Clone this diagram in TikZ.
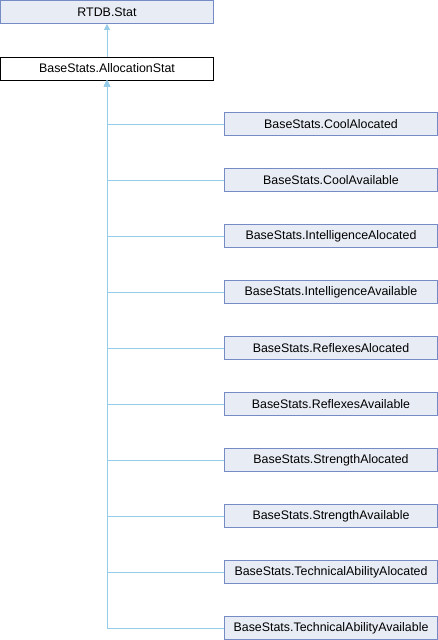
\documentclass[tikz,border=0pt]{standalone}
\usepackage{fontspec}
\setmainfont{Liberation Sans}
\usetikzlibrary{arrows.meta, positioning}
\definecolor{boxfill}{RGB}{232,236,245}
\definecolor{boxline}{RGB}{118,138,198}
\definecolor{edgeblue}{RGB}{150,204,232}
\tikzset{
  cls/.style={rectangle, draw=boxline, line width=0.9pt, fill=boxfill,
              minimum width=213pt, minimum height=23pt, inner sep=0pt,
              font=\fontsize{12.4}{14}\selectfont},
  current/.style={cls, draw=black, fill=white},
  inherit/.style={{Triangle[length=6pt, width=6pt, fill=edgeblue]}-,
                  draw=edgeblue, line width=0.9pt},
}
\begin{document}
\begin{tikzpicture}[x=1pt, y=-1pt]
  \useasboundingbox[fill=white] (0,0) rectangle (438,640);
  \node[cls] (stat) at (107,12) {RTDB.Stat};
  \node[current] (alloc) at (107,68.5) {BaseStats.AllocationStat};
  \draw[inherit] (stat.south) -- (alloc.north);
  % derived classes
  \foreach \name [count=\i] in {CoolAlocated, CoolAvailable,
      IntelligenceAlocated, IntelligenceAvailable, ReflexesAlocated,
      ReflexesAvailable, StrengthAlocated, StrengthAvailable,
      TechnicalAbilityAlocated, TechnicalAbilityAvailable} {
    \node[cls] (child\i) at (331,{68+56*\i}) {BaseStats.\name};
    \draw[inherit] (alloc.south) |- (child\i.west);
  }
\end{tikzpicture}
\end{document}
